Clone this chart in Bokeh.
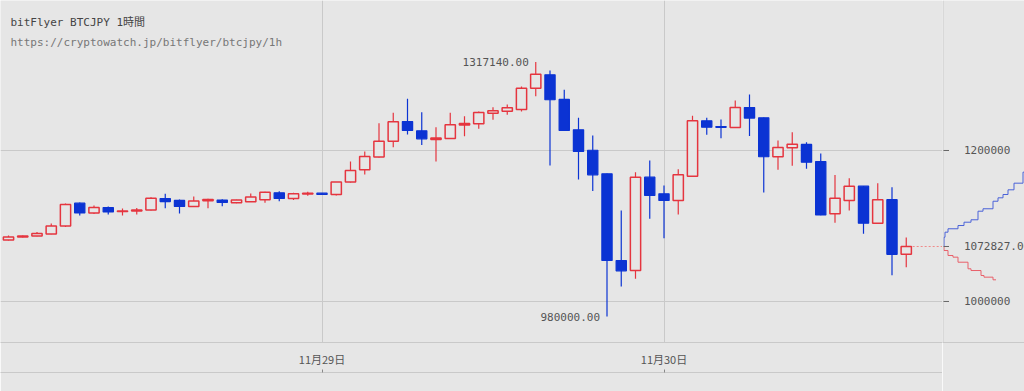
import pandas as pd
from bokeh.plotting import figure
from bokeh.layouts import row
from bokeh.models import Range1d, FixedTicker, Span, DatetimeAxis, LinearAxis, ColumnDataSource, Grid
from bokeh.core.properties import value
from bokeh.embed import file_html
from bokeh.resources import INLINE

# ---------------- data ----------------
TITLE = "bitFlyer BTCJPY 1時間"
SUBTITLE = "https://cryptowatch.jp/bitflyer/btcjpy/1h"
TIMES = pd.date_range("2017-11-28 02:00", periods=64, freq="h")
OPEN = [1081400, 1085400, 1086700, 1089400, 1100000, 1130200, 1117200, 1124500, 1119200, 1119900,
        1121200, 1136400, 1133800, 1125800, 1133400, 1134400, 1130700, 1132000, 1134900, 1144000,
        1136400, 1142400, 1143400, 1141700, 1158100, 1174400, 1191400, 1212300, 1238400, 1226100,
        1214600, 1215900, 1233800, 1235400, 1249400, 1252100, 1254300, 1282500, 1300300, 1267600,
        1227400, 1200300, 1169100, 1054300, 1041000, 1164600, 1142600, 1133800, 1166000, 1239300,
        1231800, 1230500, 1256900, 1243400, 1191700, 1203600, 1208100, 1185400, 1116100, 1133800,
        1152700, 1103700, 1134900, 1062500]
HIGH = [1087400, 1087400, 1092000, 1103300, 1129800, 1131100, 1127100, 1125800, 1123200, 1123800,
        1137900, 1142600, 1135100, 1139100, 1136000, 1135500, 1134900, 1143000, 1145300, 1146100,
        1144000, 1145300, 1143700, 1158300, 1185400, 1198700, 1236200, 1249900, 1268500, 1250700,
        1230900, 1249900, 1245400, 1251700, 1257400, 1260900, 1284800, 1317140, 1306000, 1280400,
        1243400, 1219900, 1169500, 1120500, 1171300, 1186700, 1153500, 1175300, 1246100, 1243400,
        1240900, 1266200, 1274200, 1243700, 1213300, 1224100, 1211000, 1196000, 1167600, 1163300,
        1153000, 1156700, 1151400, 1084900]
LOW = [1080800, 1084800, 1086500, 1089100, 1098700, 1113900, 1115900, 1115200, 1113900, 1115200,
       1120500, 1123600, 1116500, 1125200, 1123600, 1126200, 1130200, 1131800, 1130700, 1132800,
       1134400, 1140000, 1141400, 1140300, 1157600, 1168200, 1190700, 1204400, 1221200, 1207400,
       1185400, 1215200, 1219000, 1228700, 1240700, 1247300, 1251700, 1271900, 1180100, 1225800,
       1161600, 1146300, 980000, 1019800, 1030200, 1109500, 1083900, 1115200, 1165500, 1220800,
       1216300, 1230000, 1219200, 1144500, 1174400, 1179700, 1175700, 1114300, 1104200, 1120500,
       1089600, 1103300, 1034600, 1045200]
CLOSE = [1085400, 1086700, 1090000, 1100000, 1128500, 1117200, 1124500, 1118500, 1119900, 1121200,
         1136900, 1132400, 1125800, 1133100, 1135100, 1131100, 1134400, 1138300, 1144800, 1136400,
         1142600, 1143400, 1141700, 1158100, 1173500, 1192100, 1212300, 1238000, 1226500, 1215500,
         1216400, 1234000, 1235800, 1250300, 1252600, 1256600, 1282500, 1301100, 1267200, 1226500,
         1198700, 1167800, 1054300, 1040600, 1164600, 1140400, 1133800, 1167800, 1239300, 1230800,
         1230700, 1256900, 1243000, 1191700, 1204000, 1208400, 1184500, 1114600, 1136900, 1152700,
         1103700, 1134900, 1062500, 1072827]
DAY_TICKS = ["2017-11-28", "2017-11-29", "2017-11-30"]
DAY_LABELS = ["11月28日", "11月29日", "11月30日"]
PRICE_TICKS = [1000000, 1200000]
PRICE_LABELS = ["1000000", "1200000"]
# order book depth (cumulative volume, price)
ASK_VOLUME = [0, 10, 20, 50, 150, 210, 280, 350, 400, 500, 550, 600, 650, 710, 800, 830]
ASK_PRICE = [1072827, 1085100, 1091800, 1096300, 1100600, 1105000, 1108200, 1119600, 1122800,
             1132800, 1137300, 1141700, 1147900, 1156700, 1171300, 1180000]
BID_VOLUME = [0, 10, 50, 100, 150, 250, 280, 380, 410, 500, 530]
BID_PRICE = [1072827, 1067500, 1060900, 1058700, 1052000, 1043300, 1041000, 1034400, 1032200,
             1028700, 1028700]

# ---------------- style ----------------
BG = "#e6e6e6"
GRID = "#c9c9c9"
RED = "#e5353f"
BLUE = "#0b33d3"
TXT = "#555555"
MONO = "DejaVu Sans Mono, Noto Sans CJK JP"
CJK = "Noto Sans CJK JP"
HOUR_PX = 14.25
MAIN_W, SIDE_W, H, FRAME_H = 942, 82, 391, 342
Y_MIN, Y_MAX = 945650, 1398700

hour = pd.Timedelta(hours=1)
x_start = TIMES[0] - hour * (8 / HOUR_PX)
x_end = x_start + hour * (MAIN_W / HOUR_PX)

df = pd.DataFrame(dict(t=TIMES, o=OPEN, h=HIGH, l=LOW, c=CLOSE))
df["top"] = df[["o", "c"]].max(axis=1)
df["bot"] = df[["o", "c"]].min(axis=1)
up = ColumnDataSource(df[df.c >= df.o])
dn = ColumnDataSource(df[df.c < df.o])

y_range = Range1d(Y_MIN, Y_MAX)

p = figure(width=MAIN_W, height=H, x_axis_type="datetime",
           x_range=Range1d(x_start, x_end), y_range=y_range,
           y_axis_location=None, toolbar_location=None, output_backend="svg",
           background_fill_color=BG, border_fill_color=BG, outline_line_color=None,
           min_border_left=0, min_border_right=0, min_border_top=0, min_border_bottom=H - FRAME_H)
p.grid.visible = False

day_ms = [int(pd.Timestamp(d).value // 10**6) for d in DAY_TICKS]
day_ticker = FixedTicker(ticks=day_ms)
p.add_layout(Grid(dimension=0, ticker=day_ticker, grid_line_color=GRID))
p.add_layout(Grid(dimension=1, ticker=FixedTicker(ticks=PRICE_TICKS), grid_line_color=GRID))

ax = p.xaxis[0]
ax.ticker = day_ticker
ax.major_label_overrides = {k: v for k, v in zip(day_ms, DAY_LABELS)}
ax.major_tick_out = 0
ax.major_tick_in = 0
ax.minor_tick_line_color = None
ax.axis_line_color = GRID
ax.major_label_standoff = 8
ax.major_label_text_font = CJK
ax.major_label_text_font_size = "11px"
ax.major_label_text_color = TXT
ax.axis_label = " "
ax.axis_label_standoff = -3
ax.axis_label_text_font_size = "3px"

ax2 = DatetimeAxis(ticker=day_ticker, major_tick_in=3, major_tick_out=0,
                   major_label_text_font_size="8px", major_label_text_color=None,
                   major_label_standoff=0,
                   axis_line_color=GRID, major_tick_line_color="#888888",
                   minor_tick_line_color=None)
p.add_layout(ax2, "below")

W = 0.72 * 3600 * 1000
p.segment(x0="t", y0="h", x1="t", y1="l", source=up, line_color=RED, line_width=1.2)
p.segment(x0="t", y0="h", x1="t", y1="l", source=dn, line_color=BLUE, line_width=1.2)
p.vbar(x="t", width=W, top="top", bottom="bot", source=up, fill_color=BG, line_color=RED, line_width=1.5)
p.vbar(x="t", width=W, top="top", bottom="bot", source=dn, fill_color=BLUE, line_color=BLUE, line_width=1.2)

# last price dotted line
p.segment(x0=[TIMES[-1] + hour * 0.45], x1=[x_end], y0=[CLOSE[-1]], y1=[CLOSE[-1]],
          line_color="#f08a8a", line_dash="2 2", line_width=1)

# high / low annotations
ih = HIGH.index(max(HIGH))
il = LOW.index(min(LOW))
p.text(x=[TIMES[ih], TIMES[il]], y=[HIGH[ih], LOW[il]],
       text=[f"{HIGH[ih]:.2f}", f"{LOW[il]:.2f}"], x_offset=-7, text_align="right",
       text_baseline="middle", text_font=value(MONO), text_font_size="11px", text_color=TXT)

# titles
p.text(x=[x_start, x_start], y=[Y_MAX, Y_MAX], text=[TITLE, SUBTITLE], x_offset=10,
       y_offset=[22, 42], text_baseline="middle", text_align="left",
       text_font=value(MONO), text_font_size="11px", text_color=["#444444", "#777777"])

# ---------------- side panel (price axis + depth) ----------------
side = figure(width=SIDE_W, height=H, x_range=Range1d(-5, SIDE_W * 10 - 5),
              y_range=y_range, x_axis_location=None, y_axis_location=None,
              toolbar_location=None, output_backend="svg",
              min_border_left=0, min_border_right=0, min_border_top=0, min_border_bottom=H - FRAME_H,
              background_fill_color=BG, border_fill_color=BG, outline_line_color=None)
side.grid.visible = False
side.add_layout(Span(location=0, dimension="height", line_color=GRID, line_width=1))
sax = LinearAxis(ticker=FixedTicker(ticks=[]), major_tick_in=0, major_tick_out=0,
                 major_label_text_color=None, axis_line_color=GRID, minor_tick_line_color=None)
side.add_layout(sax, "below")

side.step(x=ASK_VOLUME, y=ASK_PRICE, mode="after", line_color="#4a62d8", line_width=1)
side.step(x=BID_VOLUME, y=BID_PRICE, mode="after", line_color="#e8606a", line_width=1)

lab_y = PRICE_TICKS + [CLOSE[-1]]
lab_t = PRICE_LABELS + [f"{CLOSE[-1]:.2f}"]
side.segment(x0=[0] * len(lab_y), x1=[60] * len(lab_y), y0=lab_y, y1=lab_y,
             line_color="#666666", line_width=1)
side.text(x=[0] * len(lab_y), y=lab_y, text=lab_t, x_offset=21, text_baseline="middle",
          text_align="left", text_font=value(MONO), text_font_size="11px", text_color=TXT)

layout = row(p, side, spacing=0)
open("out.html", "w").write(file_html(layout, INLINE))
